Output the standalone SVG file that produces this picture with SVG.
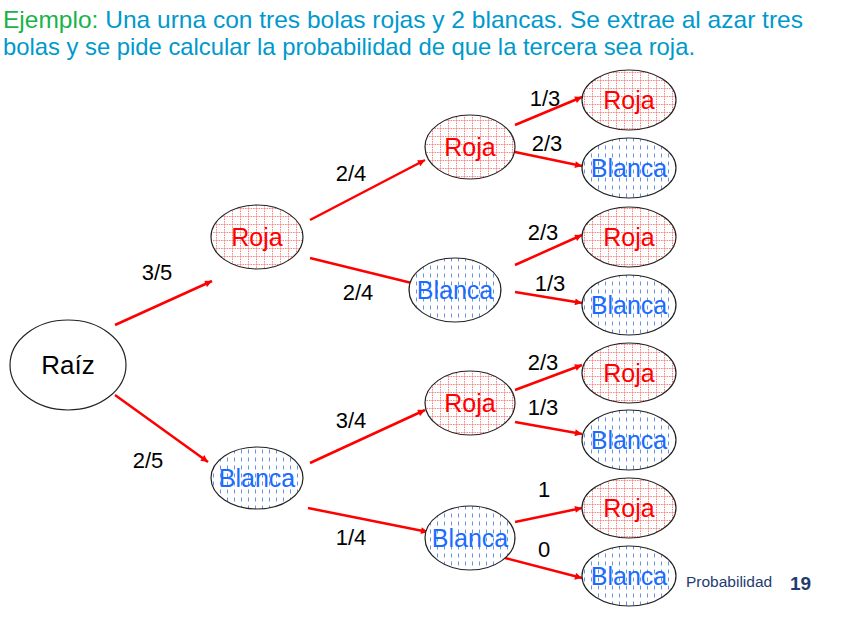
<svg xmlns="http://www.w3.org/2000/svg" width="843" height="624" viewBox="0 0 843 624">
<defs>
<pattern id="pr" width="8" height="8" patternUnits="userSpaceOnUse">
<rect width="8" height="8" fill="#fff"/>
<path d="M0 0.5H8M0.5 0V8" stroke="#f38282" stroke-width="1" stroke-dasharray="1.5 1" fill="none"/>
</pattern>
<pattern id="pb" width="7" height="8" patternUnits="userSpaceOnUse">
<rect width="7" height="8" fill="#fff"/>
<path d="M3.5 1.5V5.5" stroke="#6a92e0" stroke-width="1" fill="none"/>
</pattern>
<marker id="a" viewBox="0 0 10 10" refX="10" refY="5" markerWidth="9" markerHeight="7" orient="auto" markerUnits="userSpaceOnUse">
<path d="M0 0L10 5L0 10z" fill="#ff0000"/>
</marker>
</defs>
<style>
text{font-family:"Liberation Sans",Arial,sans-serif}
.e{stroke:#222;stroke-width:1.2}
.r{fill:url(#pr)}
.b{fill:url(#pb)}
.tr{fill:#ff0000;font-size:25px;text-anchor:middle}
.tb{fill:#1a6cff;font-size:25px;text-anchor:middle}
.c line{stroke:#ff0000;stroke-width:2.5;marker-end:url(#a)}
.l{font-size:22px;fill:#000;text-anchor:middle}
</style>
<text x="3" y="28" font-size="24" fill="#0099cc" textLength="800" lengthAdjust="spacingAndGlyphs"><tspan fill="#19b34a">Ejemplo:</tspan> Una urna con tres bolas rojas y 2 blancas. Se extrae al azar tres</text>
<text x="3" y="55" font-size="24" fill="#0099cc" textLength="692" lengthAdjust="spacingAndGlyphs">bolas y se pide calcular la probabilidad de que la tercera sea roja.</text>

<g class="c">
<line x1="115" y1="325" x2="212" y2="281"/>
<line x1="115" y1="395" x2="208" y2="462"/>
<line x1="310" y1="220" x2="425" y2="160"/>
<line x1="310" y1="258" x2="428" y2="287"/>
<line x1="310" y1="463" x2="425" y2="410"/>
<line x1="308" y1="508" x2="428" y2="532"/>
<line x1="515" y1="125" x2="582" y2="97"/>
<line x1="515" y1="152" x2="582" y2="166"/>
<line x1="515" y1="265" x2="582" y2="235"/>
<line x1="515" y1="292" x2="582" y2="303"/>
<line x1="515" y1="390" x2="582" y2="365"/>
<line x1="515" y1="422" x2="582" y2="434"/>
<line x1="515" y1="522" x2="582" y2="508"/>
<line x1="505" y1="558" x2="582" y2="578"/>
</g>

<g id="n-raiz"><ellipse cx="68" cy="365" rx="58" ry="45" fill="#fff" class="e"/><text x="68" y="374" font-size="26" text-anchor="middle" fill="#000">Raíz</text></g>
<g id="n-r1"><ellipse cx="257" cy="237" rx="46" ry="32" class="e r"/><text x="257" y="246" class="tr">Roja</text></g>
<g id="n-b1"><ellipse cx="257" cy="478" rx="46" ry="31" class="e b"/><text x="257" y="487" class="tb">Blanca</text></g>
<g id="n-rr"><ellipse cx="470" cy="147" rx="45" ry="32" class="e r"/><text x="470" y="156" class="tr">Roja</text></g>
<g id="n-rb"><ellipse cx="455" cy="290" rx="46" ry="32" class="e b"/><text x="455" y="299" class="tb">Blanca</text></g>
<g id="n-br"><ellipse cx="470" cy="403" rx="45" ry="32" class="e r"/><text x="470" y="412" class="tr">Roja</text></g>
<g id="n-bb"><ellipse cx="470" cy="538" rx="45" ry="32" class="e b"/><text x="470" y="547" class="tb">Blanca</text></g>
<g id="n-rrr"><ellipse cx="629" cy="100" rx="47" ry="30" class="e r"/><text x="629" y="109" class="tr">Roja</text></g>
<g id="n-rrb"><ellipse cx="629" cy="168" rx="47" ry="30" class="e b"/><text x="629" y="177" class="tb">Blanca</text></g>
<g id="n-rbr"><ellipse cx="629" cy="237" rx="47" ry="30" class="e r"/><text x="629" y="246" class="tr">Roja</text></g>
<g id="n-rbb"><ellipse cx="629" cy="305" rx="47" ry="30" class="e b"/><text x="629" y="314" class="tb">Blanca</text></g>
<g id="n-brr"><ellipse cx="629" cy="373" rx="47" ry="30" class="e r"/><text x="629" y="382" class="tr">Roja</text></g>
<g id="n-brb"><ellipse cx="629" cy="440" rx="47" ry="30" class="e b"/><text x="629" y="449" class="tb">Blanca</text></g>
<g id="n-bbr"><ellipse cx="629" cy="508" rx="47" ry="30" class="e r"/><text x="629" y="517" class="tr">Roja</text></g>
<g id="n-bbb"><ellipse cx="629" cy="576" rx="47" ry="30" class="e b"/><text x="629" y="585" class="tb">Blanca</text></g>

<g id="labels">
<text class="l" x="157" y="280">3/5</text>
<text class="l" x="148" y="468">2/5</text>
<text class="l" x="351" y="181">2/4</text>
<text class="l" x="358" y="300">2/4</text>
<text class="l" x="351" y="428">3/4</text>
<text class="l" x="351" y="545">1/4</text>
<text class="l" x="545" y="106">1/3</text>
<text class="l" x="547" y="151">2/3</text>
<text class="l" x="543" y="240">2/3</text>
<text class="l" x="550" y="291">1/3</text>
<text class="l" x="543" y="370">2/3</text>
<text class="l" x="543" y="415">1/3</text>
<text class="l" x="544" y="497">1</text>
<text class="l" x="544" y="557">0</text>
</g>
<text x="686" y="587" font-size="15.5" fill="#1f3b6f">Probabilidad</text>
<text x="790" y="590" font-size="19" font-weight="bold" fill="#1f3b6f">19</text>
</svg>
